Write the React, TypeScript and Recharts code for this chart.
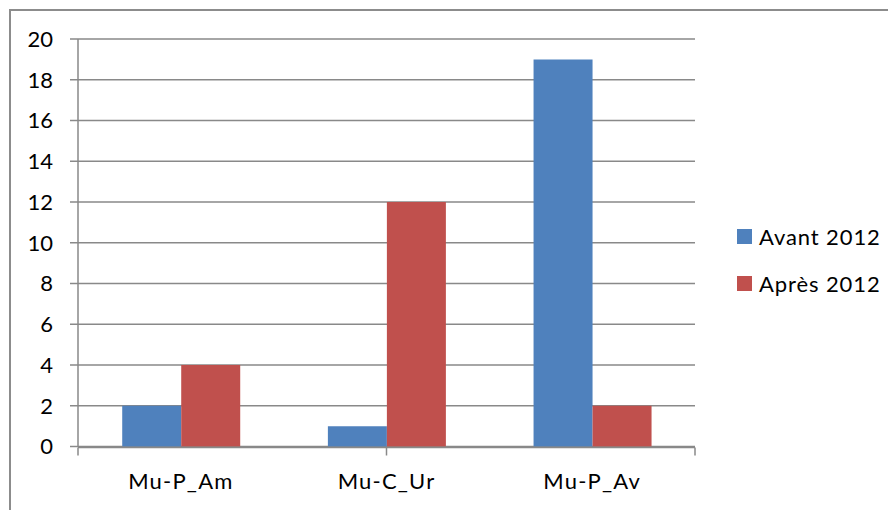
import React from 'react';
import { BarChart, Bar, XAxis, YAxis, CartesianGrid, Legend } from 'recharts';

const categories = ['Mu-P_Am', 'Mu-C_Ur', 'Mu-P_Av'];
const avant2012 = [2, 1, 19];
const apres2012 = [4, 12, 2];
const yTicks = [0, 2, 4, 6, 8, 10, 12, 14, 16, 18, 20];
const boundaryTicks = [0, 1, 2, 3];
const seriesNames = ['Avant 2012', 'Après 2012'];
const seriesColors = ['#4F81BD', '#C0504D'];

const data = categories.map((c, i) => ({ name: c, avant: avant2012[i], apres: apres2012[i] }));

const FONT = 'Lato, "Liberation Sans", sans-serif';
const GRID = '#898989';

const LegendContent = () => (
  <div style={{ fontFamily: FONT, fontSize: 22, color: '#000', letterSpacing: 0.9 }}>
    {seriesNames.map((n, i) => (
      <div key={n} style={{ display: 'flex', alignItems: 'center', height: 47 }}>
        <span style={{ display: 'inline-block', width: 15, height: 15, background: seriesColors[i], marginRight: 7 }} />
        <span>{n}</span>
      </div>
    ))}
  </div>
);

export default function App() {
  return (
    <div style={{ position: 'relative', left: 1, top: 1, width: 887, height: 501, borderTop: '2px solid #8c8c8c', borderLeft: '2px solid #8c8c8c', background: '#fff' }}>
      <BarChart
        width={885}
        height={499}
        data={data}
        margin={{ top: 28, right: 201, left: 8, bottom: 61.5 }}
        barCategoryGap="21.5%"
        barGap={0}
      >
        <CartesianGrid vertical={false} stroke={GRID} strokeWidth={1.5} />
        <XAxis
          xAxisId="bounds"
          type="number"
          domain={[0, 3]}
          ticks={boundaryTicks}
          allowDataOverflow
          height={1}
          tickFormatter={() => ''}
          tickSize={8}
          tickLine={{ stroke: GRID, strokeWidth: 1.5 }}
          axisLine={{ stroke: GRID, strokeWidth: 1.5 }}
        />
        <XAxis
          dataKey="name"
          height={1}
          tickSize={0}
          tickMargin={27}
          axisLine={false}
          tickLine={false}
          tick={{ fill: '#000', fontSize: 22, fontFamily: FONT, letterSpacing: 1.2 }}
        />
        <YAxis
          width={59}
          domain={[0, 20]}
          ticks={yTicks}
          interval={0}
          tickSize={8}
          tickMargin={17}
          tickLine={{ stroke: GRID, strokeWidth: 1.5 }}
          axisLine={{ stroke: GRID, strokeWidth: 1.5 }}
          tick={{ fill: '#000', fontSize: 22, fontFamily: FONT }}
        />
        <Legend
          layout="vertical"
          verticalAlign="middle"
          align="center"
          wrapperStyle={{ left: 726, top: 202, width: 160 }}
          content={<LegendContent />}
        />
        <Bar dataKey="avant" name={seriesNames[0]} fill={seriesColors[0]} isAnimationActive={false} />
        <Bar dataKey="apres" name={seriesNames[1]} fill={seriesColors[1]} isAnimationActive={false} />
      </BarChart>
    </div>
  );
}
